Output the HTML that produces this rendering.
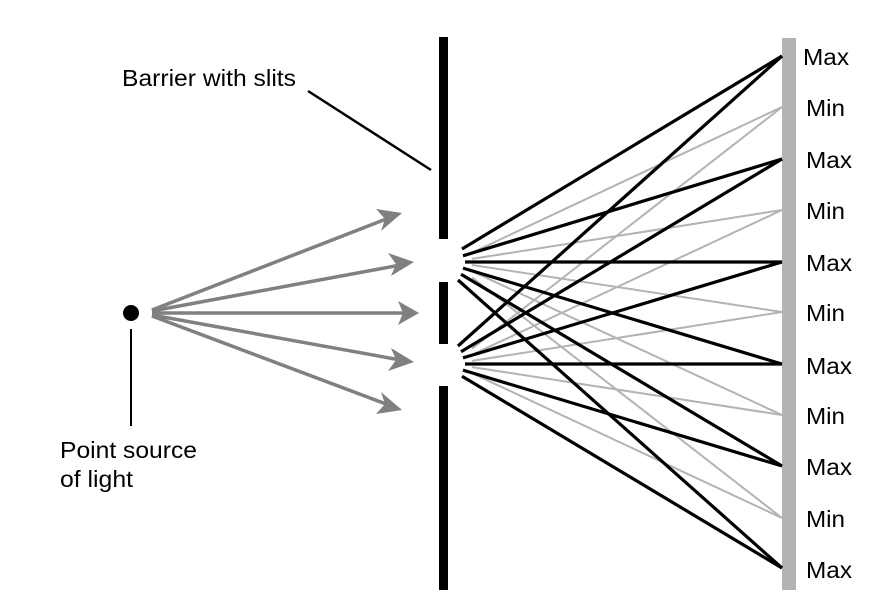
<!DOCTYPE html>
<html><head><meta charset="utf-8"><style>
body{margin:0;background:#fff}
svg{display:block}
text{font-family:"Liberation Sans",Arial,sans-serif;font-size:23px;fill:#000}
</style></head><body>
<svg width="880" height="601" viewBox="0 0 880 601" xmlns="http://www.w3.org/2000/svg">
<rect x="782" y="38" width="14" height="552" fill="#b3b3b3"/>
<rect x="439" y="37" width="9" height="202" fill="#000"/>
<rect x="439" y="282" width="9" height="62" fill="#000"/>
<rect x="439" y="386" width="9" height="204" fill="#000"/>
<g stroke="#b3b3b3" stroke-width="2">
<line x1="472" y1="252.7" x2="782" y2="107"/>
<line x1="472" y1="258.9" x2="782" y2="210"/>
<line x1="472" y1="265" x2="782" y2="312"/>
<line x1="472" y1="271.2" x2="782" y2="415"/>
<line x1="472" y1="277.4" x2="782" y2="518"/>
<line x1="472" y1="348.6" x2="782" y2="107"/>
<line x1="472" y1="354.8" x2="782" y2="210"/>
<line x1="472" y1="360.9" x2="782" y2="312"/>
<line x1="472" y1="367.1" x2="782" y2="415"/>
<line x1="472" y1="373.2" x2="782" y2="518"/>
</g>
<g stroke="#000" stroke-width="3.2">
<line x1="462" y1="249" x2="782" y2="56"/>
<line x1="463" y1="255.8" x2="782" y2="159"/>
<line x1="465" y1="262" x2="782" y2="262"/>
<line x1="463" y1="268.1" x2="782" y2="364"/>
<line x1="461" y1="274.2" x2="782" y2="466"/>
<line x1="458" y1="280" x2="782" y2="568"/>
<line x1="458" y1="346" x2="782" y2="56"/>
<line x1="461" y1="351.7" x2="782" y2="159"/>
<line x1="463" y1="357.9" x2="782" y2="262"/>
<line x1="465" y1="364" x2="782" y2="364"/>
<line x1="463" y1="370.1" x2="782" y2="466"/>
<line x1="462" y1="376.2" x2="782" y2="568"/>
</g>
<circle cx="131" cy="313" r="8" fill="#000"/>
<line x1="131" y1="329" x2="131" y2="426" stroke="#000" stroke-width="2"/>
<g stroke="#808080" stroke-width="3.5" fill="#808080">
<line x1="152" y1="310" x2="394" y2="216"/>
<line x1="152" y1="311" x2="406" y2="264"/>
<line x1="152" y1="313" x2="410" y2="313"/>
<line x1="152" y1="315" x2="406" y2="361"/>
<line x1="152" y1="316" x2="394" y2="407"/>
</g>
<g fill="#808080">
<polygon points="402,213 381,231 385,219 376,209"/>
<polygon points="414,262 391,276 396,264 388,253"/>
<polygon points="419,313 398,325 403,313 398,301"/>
<polygon points="414,362 388,371 396,360 391,348"/>
<polygon points="402,410 376,414 385,404 381,392"/>
</g>
<line x1="308" y1="91" x2="431" y2="170" stroke="#000" stroke-width="2.5"/>
<text x="122" y="86" textLength="174" lengthAdjust="spacingAndGlyphs">Barrier with slits</text>
<text x="60" y="458" textLength="137" lengthAdjust="spacingAndGlyphs">Point source</text>
<text x="60" y="487" textLength="73" lengthAdjust="spacingAndGlyphs">of light</text>
<g>
<text x="803" y="65" textLength="46" lengthAdjust="spacingAndGlyphs">Max</text>
<text x="806" y="116" textLength="39" lengthAdjust="spacingAndGlyphs">Min</text>
<text x="806" y="168" textLength="46" lengthAdjust="spacingAndGlyphs">Max</text>
<text x="806" y="219" textLength="39" lengthAdjust="spacingAndGlyphs">Min</text>
<text x="806" y="271" textLength="46" lengthAdjust="spacingAndGlyphs">Max</text>
<text x="806" y="321" textLength="39" lengthAdjust="spacingAndGlyphs">Min</text>
<text x="806" y="374" textLength="46" lengthAdjust="spacingAndGlyphs">Max</text>
<text x="806" y="424" textLength="39" lengthAdjust="spacingAndGlyphs">Min</text>
<text x="806" y="475" textLength="46" lengthAdjust="spacingAndGlyphs">Max</text>
<text x="806" y="527" textLength="39" lengthAdjust="spacingAndGlyphs">Min</text>
<text x="806" y="578" textLength="46" lengthAdjust="spacingAndGlyphs">Max</text>
</g>
</svg>
</body></html>
